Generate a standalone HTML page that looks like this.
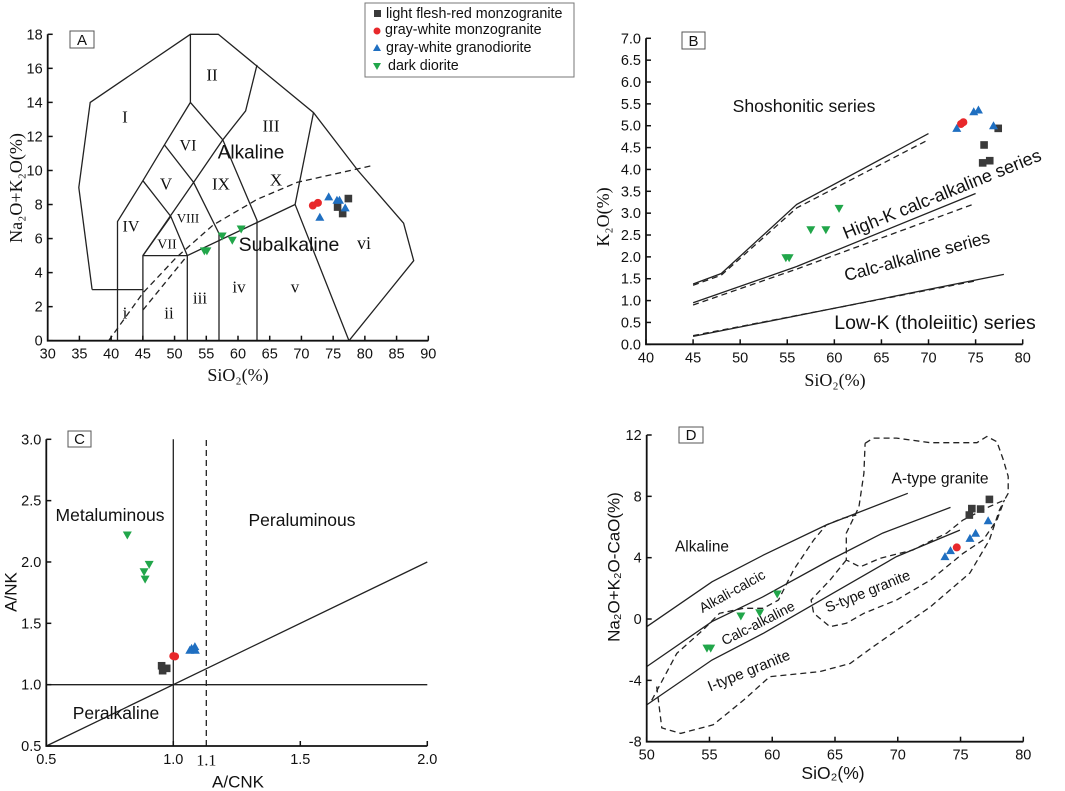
<!DOCTYPE html>
<html><head><meta charset="utf-8"><style>
body{margin:0;background:#fff}
svg{display:block;font-family:"Liberation Sans",sans-serif}
.t{fill:#111}
.ser{font-family:"Liberation Serif",serif}
.ln{fill:none;stroke:#222;stroke-width:1.3}
.dl{fill:none;stroke:#222;stroke-width:1.3;stroke-dasharray:6 4}
.ax{stroke:#111;stroke-width:1.8;fill:none}
</style></head><body>
<svg id="fig" width="1065" height="791" viewBox="0 0 1065 791">
<g id="gA"></g>
<g id="gB"></g>
<g id="gC"></g>
<g id="gD"></g>
<g>
<rect x="365" y="3" width="209" height="74" fill="#fff" stroke="#777" stroke-width="1"/>
<rect x="374" y="10" width="7" height="7" fill="#3a3a3a"/><text class="t" x="386" y="18" font-size="14.3">light flesh-red monzogranite</text>
<circle cx="377" cy="31" r="3.5" fill="#e8282b"/><text class="t" x="385" y="34" font-size="14.3">gray-white monzogranite</text>
<path d="M373,51 L377,44 L381,51Z" fill="#1f6fc1"/><text class="t" x="386" y="52" font-size="14.3">gray-white granodiorite</text>
<path d="M373,63 L381,63 L377,70Z" fill="#21a64a"/><text class="t" x="388" y="70" font-size="14.3">dark diorite</text>
</g>
</svg>
<script>
// ---------- data ----------
const aSq=[[75.7,7.85],[77.4,8.35],[76.5,7.47]];
const aRed=[[71.8,7.94],[72.6,8.1]];
const aBlue=[[74.3,8.45],[75.6,8.25],[76.0,8.25],[72.9,7.25],[76.9,7.8]];
const aGreen=[[54.7,5.28],[55.1,5.28],[57.5,6.15],[59.1,5.9],[60.5,6.56]];
const bSq=[[77.4,4.94],[75.9,4.56],[75.75,4.15],[76.5,4.2]];
const bRed=[[73.45,5.04],[73.7,5.08]];
const bBlue=[[73.0,4.94],[74.8,5.32],[75.3,5.36],[76.9,5.0]];
const bGreen=[[54.85,1.98],[55.2,1.98],[57.5,2.62],[59.1,2.62],[60.5,3.11]];
const cSq=[[0.954,1.154],[0.974,1.133],[0.958,1.114]];
const cRed=[[1.0,1.233],[1.007,1.23]];
const cBlue=[[1.072,1.296],[1.085,1.31],[1.087,1.28],[1.065,1.28]];
const cGreen=[[0.819,2.22],[0.905,1.98],[0.885,1.92],[0.889,1.86]];
const dSq=[[75.7,6.78],[75.9,7.2],[76.6,7.17],[77.3,7.8]];
const dRed=[[74.7,4.67]];
const dBlue=[[73.76,4.07],[74.2,4.46],[75.75,5.26],[76.2,5.59],[77.2,6.41]];
const dGreen=[[54.8,-1.9],[55.1,-1.9],[57.5,0.2],[59.0,0.41],[60.4,1.63]];
const aXTicks=[30,35,40,45,50,55,60,65,70,75,80,85,90];
const aYTicks=[0,2,4,6,8,10,12,14,16,18];
const bXTicks=[40,45,50,55,60,65,70,75,80];
const bYTicks=[0.0,0.5,1.0,1.5,2.0,2.5,3.0,3.5,4.0,4.5,5.0,5.5,6.0,6.5,7.0];
const cXTicks=[0.5,1.0,1.5,2.0];
const cYTicks=[0.5,1.0,1.5,2.0,2.5,3.0];
const dXTicks=[50,55,60,65,70,75,80];
const dYTicks=[-8,-4,0,4,8,12];
// ---------- helpers ----------
const NS='http://www.w3.org/2000/svg';
function mk(p,tag,at,txt){const e=document.createElementNS(NS,tag);for(const k in at)e.setAttribute(k,at[k]);if(txt!==undefined)e.textContent=txt;p.appendChild(e);return e;}
function lin(d0,d1,p0,p1){return v=>p0+(v-d0)*(p1-p0)/(d1-d0);}
function path(sx,sy,pts){return pts.map((p,i)=>(i?'L':'M')+sx(p[0]).toFixed(1)+','+sy(p[1]).toFixed(1)).join('');}
function line(g,sx,sy,pts,cls,name){const e=mk(g,'path',{d:path(sx,sy,pts),class:cls});

return e;}
function marks(g,sx,sy,arr,kind,name){arr.forEach(p=>{const x=sx(p[0]),y=sy(p[1]);let e;
if(kind==='sq')e=mk(g,'rect',{x:x-3.8,y:y-3.8,width:7.6,height:7.6,fill:'#3a3a3a'});
else if(kind==='ci')e=mk(g,'circle',{cx:x,cy:y,r:4,fill:'#e8282b'});
else if(kind==='up')e=mk(g,'path',{d:`M${x-4.5},${y+3.5}L${x},${y-4.5}L${x+4.5},${y+3.5}Z`,fill:'#1f6fc1'});
else e=mk(g,'path',{d:`M${x-4.5},${y-3.5}L${x+4.5},${y-3.5}L${x},${y+4.5}Z`,fill:'#21a64a'});

});}
function axes(g,sx,sy,xt,yt,x0,x1,y0,y1,fmt,fs){
const a=mk(g,'path',{d:`M${sx(x0)},${sy(y1)}L${sx(x0)},${sy(y0)}L${sx(x1)},${sy(y0)}`,class:'ax'});


xt.forEach(v=>{mk(g,'line',{x1:sx(v),x2:sx(v),y1:sy(y0),y2:sy(y0)-5,stroke:'#111','stroke-width':1.5});
const t=mk(g,'text',{x:sx(v),y:sy(y0)+18,'text-anchor':'middle',class:'t','font-size':fs},fmt(v));

});
yt.forEach(v=>{mk(g,'line',{x1:sx(x0),x2:sx(x0)+5,y1:sy(v),y2:sy(v),stroke:'#111','stroke-width':1.5});
const t=mk(g,'text',{x:sx(x0)-5,y:sy(v)+5,'text-anchor':'end',class:'t','font-size':fs},fmt(v));

});}
function label(g,x,y,s,fs,rot,cls,name){const at={x:x,y:y,'text-anchor':'middle','dominant-baseline':'central','font-size':fs,class:cls||'t'};
if(rot)at.transform=`rotate(${rot},${x},${y})`;const e=mk(g,'text',at,s);

return e;}
function box(g,x,y,w,h,s,name){mk(g,'rect',{x:x,y:y,width:w,height:h,fill:'#fff',stroke:'#555','stroke-width':1});
const e=mk(g,'text',{x:x+w/2,y:y+h-3,'text-anchor':'middle','font-size':15,class:'t'},s);

}
const i0=v=>String(v), f1=v=>v.toFixed(1);

// ---------- Panel A ----------
(function(){const g=document.getElementById('gA');
const sx=lin(30,90,47.7,428.3), sy=lin(0,18,340.7,34.3);
const L=(pts,n)=>line(g,sx,sy,pts,'ln',n);
L([[37,3],[34.9,9],[36.7,14],[52.5,18],[56.9,18],[71.9,13.4],[78.9,10],[86.1,6.9],[87.7,4.7],[77.5,0]],'outer-boundary');
L([[37,3],[45,3]],'boundary');L([[71.9,13.4],[69,8],[77.5,0]],'boundary');
L([[69,8],[52,5],[45,5]],'boundary');
L([[41,0],[41,7],[45,9.4],[48.4,11.5],[52.5,14],[52.5,18]],'boundary');
L([[45,0],[45,5],[49.4,7.3]],'boundary');L([[52,0],[52,5]],'boundary');
L([[57,0],[57,6.3],[53,9.3],[48.4,11.5]],'boundary');
L([[63,0],[63,7.07],[57.6,11.8],[52.5,14]],'boundary');
L([[57.6,11.8],[61.2,13.5],[63,16.2]],'boundary');
L([[57.6,11.8],[53,9.3],[45,5]],'boundary');
L([[45,9.4],[49.4,7.3],[52,5]],'boundary');
line(g,sx,sy,[[39.6,0],[45,2.8],[50.3,4.9],[56.1,6.8],[63,8.3],[69.3,9.3],[81.3,10.3]],'dl','alkaline-divide');
line(g,sx,sy,[[45,1.8],[52,5]],'dl','alkaline-divide-2');
axes(g,sx,sy,aXTicks,aYTicks,30,90,0,18,i0,14.5);
[['I',125,117,17],['II',212,75,17],['III',271,126,17],['VI',188,146,16],['V',166,184,17],['IX',221,184,17],['X',276,180,17],['IV',131,227,16],['VIII',188,218,13],['VII',167,245,14],['i',125,313,17],['ii',169,313,17],['iii',200,298,17],['iv',239,287,17],['v',295,287,17],['vi',364,243,18]].forEach(r=>label(g,r[1],r[2],r[0],r[3],0,'t ser','field-label'));
label(g,251,153,'Alkaline',19,0,null,'alkaline-label');
label(g,289,245,'Subalkaline',19.5,0,null,'subalkaline-label');
box(g,70,31,24,17,'A','panel-label-a');
label(g,238,375,'SiO₂(%)',18,0,'t ser','x-axis-title');
label(g,16,188,'Na₂O+K₂O(%)',18,-90,'t ser','y-axis-title');
marks(g,sx,sy,aGreen,'dn','point-diorite');marks(g,sx,sy,aSq,'sq','point-flesh-red');
marks(g,sx,sy,aRed,'ci','point-gray-monzogranite');marks(g,sx,sy,aBlue,'up','point-granodiorite');
})();
// ---------- Panel B ----------
(function(){const g=document.getElementById('gB');
const sx=lin(40,80,646,1022.7), sy=lin(0,7,344.3,38.3);
line(g,sx,sy,[[45,1.38],[48,1.62],[56,3.2],[70,4.82]],'ln','shoshonitic-boundary');
line(g,sx,sy,[[45,1.35],[48,1.58],[56,3.12],[70,4.68]],'dl','shoshonitic-boundary-dash');
line(g,sx,sy,[[45,0.95],[56,1.78],[75,3.45]],'ln','highk-boundary');
line(g,sx,sy,[[45,0.9],[56,1.72],[74.7,3.2]],'dl','highk-boundary-dash');
line(g,sx,sy,[[45,0.18],[78,1.6]],'ln','lowk-boundary');
line(g,sx,sy,[[45,0.2],[75,1.45]],'dl','lowk-boundary-dash');
axes(g,sx,sy,bXTicks,bYTicks,40,80,0,7,v=>v>=40?i0(v):f1(v),14.5);
label(g,804,106,'Shoshonitic series',17.6,0,null,'shoshonitic-label');
label(g,942,194,'High-K calc-alkaline series',18,-22,null,'highk-label');
label(g,917,256,'Calc-alkaline series',17.3,-15,null,'calc-alkaline-label');
label(g,935,323,'Low-K (tholeiitic) series',19.5,0,null,'lowk-label');
box(g,682,32,23,17,'B','panel-label-b');
label(g,835,380,'SiO₂(%)',18,0,'t ser','x-axis-title');
label(g,603,217,'K₂O(%)',18,-90,'t ser','y-axis-title');
marks(g,sx,sy,bGreen,'dn','point-diorite');marks(g,sx,sy,bSq,'sq','point-flesh-red');
marks(g,sx,sy,bRed,'ci','point-gray-monzogranite');marks(g,sx,sy,bBlue,'up','point-granodiorite');
})();
// ---------- Panel C ----------
(function(){const g=document.getElementById('gC');
const sx=lin(0.5,2.0,46.3,427.3), sy=lin(0.5,3.0,746,439.3);
line(g,sx,sy,[[1.0,0.5],[1.0,3.0]],'ln','acnk-1-line');
line(g,sx,sy,[[1.13,0.5],[1.13,3.0]],'dl','acnk-1-1-line');
line(g,sx,sy,[[0.5,1.0],[2.0,1.0]],'ln','ank-1-line');
line(g,sx,sy,[[0.5,0.5],[2.0,2.0]],'ln','diagonal-line');
axes(g,sx,sy,cXTicks,cYTicks,0.5,2.0,0.5,3.0,f1,14.5);
label(g,sx(1.13),761,'1.1',16,0,'t ser','acnk-1-1-label');
label(g,110,515,'Metaluminous',17.5,0,null,'metaluminous-label');
label(g,302,520,'Peraluminous',17.5,0,null,'peraluminous-label');
label(g,116,713,'Peralkaline',17.5,0,null,'peralkaline-label');
box(g,68,431,23,16,'C','panel-label-c');
label(g,238,782,'A/CNK',17,0,null,'x-axis-title');
label(g,11,592,'A/NK',17,-90,null,'y-axis-title');
marks(g,sx,sy,cGreen,'dn','point-diorite');marks(g,sx,sy,cSq,'sq','point-flesh-red');
marks(g,sx,sy,cRed,'ci','point-gray-monzogranite');marks(g,sx,sy,cBlue,'up','point-granodiorite');
})();
// ---------- Panel D ----------
(function(){const g=document.getElementById('gD');
const sx=lin(50,80,646.7,1023.3), sy=lin(-8,12,741.7,435);
line(g,sx,sy,[[50,-0.5],[55.2,2.43],[59.3,4.17],[64.3,6.13],[70.8,8.2]],'ln','alkaline-boundary');
line(g,sx,sy,[[50,-3.1],[55.2,-0.17],[59.3,1.46],[64.6,3.85],[68.8,5.6],[74.2,7.28]],'ln','alkali-calcic-boundary');
line(g,sx,sy,[[50,-5.6],[55.2,-2.67],[59.3,-0.93],[64.6,1.57],[69.9,4.07],[74.95,5.8]],'ln','calc-alkaline-boundary');
line(g,sx,sy,[[67.4,11.46],[68.05,11.8],[69.9,11.8],[72.6,11.5],[76.3,11.5],[77.1,11.9],[77.9,11.56],[78.4,10.4],[78.8,9.3],[78.8,8.2],[78.5,7.76],[77.3,7.33],[75.2,6.46],[73.9,5.6],[71.2,4.5],[68.6,3.96],[67.0,3.4],[65.9,3.85],[65.9,5.6],[66.9,7.3],[67.3,9.5],[67.4,11.46]],'dl','a-type-field');
line(g,sx,sy,[[50.8,-4.4],[51.2,-7.1],[52.7,-7.46],[55.3,-6.9],[57.7,-5.3],[59.8,-3.76],[63.8,-3.43],[66.2,-2.9],[68.05,-1.8],[72.6,0.8],[75.75,3.0],[77.3,5.15],[78.1,7.1],[78.5,7.76]],'dl','i-type-field');
line(g,sx,sy,[[50.4,-5.3],[52.4,-2.24],[54.5,-0.7],[55.8,0.37],[57.7,0.7],[59.3,0.7],[60.5,1.24],[61.7,3.2],[63.3,5.15],[64.3,6.13],[65.6,6.56],[66.7,6.78]],'dl','i-type-upper');
line(g,sx,sy,[[65.9,3.85],[64.6,2.54],[63.1,1.24],[63.3,0.37],[64.6,-0.5],[65.9,-0.28],[67.3,0.37],[69.9,1.24],[72.6,2.54],[75.2,4.28],[76.8,5.15],[77.9,6.46],[78.4,7.54]],'dl','s-type-field');
axes(g,sx,sy,dXTicks,dYTicks,50,80,-8,12,i0,14.5);
label(g,940,479,'A-type granite',15.6,0,null,'a-type-label');
label(g,702,547,'Alkaline',15.4,0,null,'alkaline-label');
label(g,732,591,'Alkali-calcic',14,-29,null,'alkali-calcic-label');
label(g,758,623,'Calc-alkaline',14,-27,null,'calc-alkaline-label');
label(g,868,592,'S-type granite',14.5,-22,null,'s-type-label');
label(g,749,671,'I-type granite',15,-22,null,'i-type-label');
box(g,679,427,24,16,'D','panel-label-d');
label(g,833,773,'SiO₂(%)',17.5,0,null,'x-axis-title');
label(g,614,567,'Na₂O+K₂O-CaO(%)',17,-90,null,'y-axis-title');
marks(g,sx,sy,dGreen,'dn','point-diorite');marks(g,sx,sy,dSq,'sq','point-flesh-red');
marks(g,sx,sy,dRed,'ci','point-gray-monzogranite');marks(g,sx,sy,dBlue,'up','point-granodiorite');
})();
</script>
</body></html>
